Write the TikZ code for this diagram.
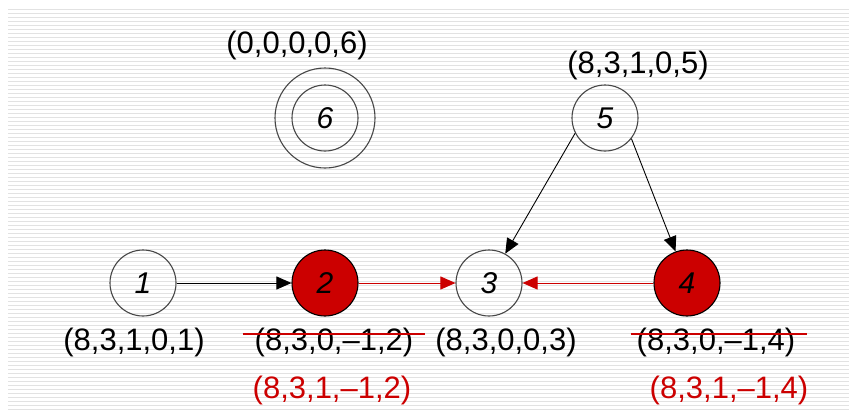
\documentclass[tikz,border=0pt]{standalone}
\usepackage{fontspec}
\setmainfont{Liberation Sans}
\usetikzlibrary{arrows.meta}
\definecolor{dred}{RGB}{204,0,0}
\definecolor{stripe}{RGB}{226,226,226}
\definecolor{ring}{RGB}{70,70,70}
\tikzset{
  vert/.style={circle,draw=ring,line width=1.1pt,minimum size=66pt,inner sep=0pt,font=\fontsize{30}{30}\selectfont\itshape},
  hot/.style={vert,fill=dred,draw=black},
  lbl/.style={inner sep=0pt,font=\fontsize{31}{31}\selectfont},
  rlbl/.style={lbl,text=dred},
  blk/.style={line width=0.9pt,-{Triangle[length=15pt,width=13pt]}},
  redarr/.style={line width=0.9pt,draw=dred,-{Triangle[length=15pt,width=13pt]},color=dred},
  strike/.style={draw=dred,line width=2.6pt}
}
\begin{document}
\begin{tikzpicture}[x=1pt,y=-1pt]
\useasboundingbox (0,0) rectangle (849,413);
\fill[white] (0,0) rectangle (849,413);
\foreach \k in {0,...,100}{
  \draw[stripe,line width=1pt] (8,{9+4*\k}) -- (849,{9+4*\k});
}
% vertices
\node[vert] (n1) at (143,283) {1};
\node[hot]  (n2) at (325,283) {2};
\node[vert] (n3) at (489,283) {3};
\node[hot]  (n4) at (687,283) {4};
\node[vert] (n5) at (605,118) {5};
\node[vert] (n6) at (325,118) {6};
\node[circle,draw=ring,line width=1.1pt,minimum size=100pt,inner sep=0pt] (n6o) at (325,118) {};
% labels
\node[lbl] (l6) at (297,45) {(0,0,0,0,6)};
\node[lbl] (l5) at (638,65) {(8,3,1,0,5)};
\node[lbl] (l1) at (134,342) {(8,3,1,0,1)};
\node[lbl] (l2) at (334,342) {(8,3,0,–1,2)};
\node[lbl] (l3) at (506,342) {(8,3,0,0,3)};
\node[lbl] (l4) at (716,342) {(8,3,0,–1,4)};
\node[rlbl] (r2) at (332,390) {(8,3,1,–1,2)};
\node[rlbl] (r4) at (729,390) {(8,3,1,–1,4)};
% strike-throughs
\draw[strike] ([xshift=-12pt,yshift=8pt]l2.west) -- ([xshift=12pt,yshift=8pt]l2.east);
\draw[strike] ([xshift=-6pt,yshift=8pt]l4.west) -- ([xshift=12pt,yshift=8pt]l4.east);
% edges
\draw[blk] (n1) -- (n2);
\draw[redarr] (n2) -- (n3);
\draw[redarr] (n4) -- (n3);
\draw[blk] (n5.207) -- (n3.61);
\draw[blk] (n5.322) -- (n4.110);
\end{tikzpicture}
\end{document}
